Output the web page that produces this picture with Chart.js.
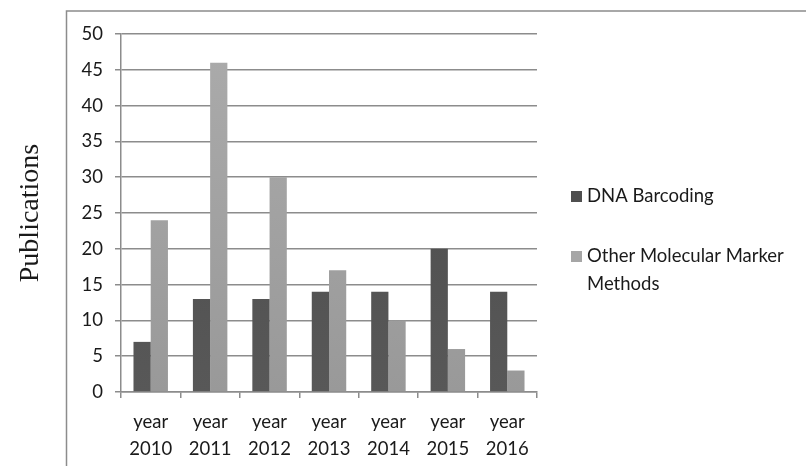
<!DOCTYPE html>
<html>
<head>
<meta charset="utf-8">
<script src="https://cdn.jsdelivr.net/npm/chart.js@4/dist/chart.umd.min.js"></script>
<style>
  html, body { margin: 0; padding: 0; background: #fff; }
  #wrap { width: 806px; height: 466px; position: relative; }
</style>
</head>
<body>
<div id="wrap"><canvas id="c" width="806" height="466"></canvas></div>
<script>
const categories = [["year", "2010"], ["year", "2011"], ["year", "2012"], ["year", "2013"], ["year", "2014"], ["year", "2015"], ["year", "2016"]];
const seriesNames = ["DNA Barcoding", "Other Molecular Marker Methods"];
const dnaBarcoding = [7, 13, 13, 14, 14, 20, 14];
const otherMarkers = [24, 46, 30, 17, 10, 6, 3];
const yTicks = [0, 5, 10, 15, 20, 25, 30, 35, 40, 45, 50];

const labelFont = "Lato, 'Open Sans', sans-serif";
const labelSize = 18.5;

function barGradient(top, bottom) {
  return function (context) {
    const area = context.chart.chartArea;
    if (!area) return top;
    const g = context.chart.ctx.createLinearGradient(0, area.top, 0, area.bottom);
    g.addColorStop(0, top);
    g.addColorStop(1, bottom);
    return g;
  };
}

// Outer frame lines and the side legend
const framePlugin = {
  id: 'frame',
  beforeDraw(chart) {
    const ctx = chart.ctx;
    ctx.save();
    ctx.strokeStyle = '#8c8c8c';
    ctx.lineWidth = 1.5;
    ctx.beginPath();
    ctx.moveTo(66.5, 466);
    ctx.lineTo(66.5, 11);
    ctx.lineTo(806, 11);
    ctx.stroke();
    ctx.restore();
  },
  afterDraw(chart) {
    const ctx = chart.ctx;
    ctx.save();
    ctx.font = labelSize + "px " + labelFont;
    ctx.textBaseline = 'middle';
    const items = [
      { color: '#4f4f4f', lines: [chart.data.datasets[0].label], y: 196 },
      { color: '#a6a6a6', lines: ["Other Molecular Marker", "Methods"], y: 256 }
    ];
    items.forEach(it => {
      ctx.fillStyle = it.color;
      ctx.fillRect(571, it.y - 5, 11, 11);
      ctx.fillStyle = '#1a1a1a';
      it.lines.forEach((t, i) => ctx.fillText(t, 587, it.y + i * 28));
    });
    ctx.restore();
  }
};

new Chart(document.getElementById('c'), {
  type: 'bar',
  data: {
    labels: categories,
    datasets: [
      {
        label: seriesNames[0],
        data: dnaBarcoding,
        backgroundColor: barGradient('#4a4a4a', '#585858'),
        barPercentage: 1.0,
        categoryPercentage: 0.58
      },
      {
        label: seriesNames[1],
        data: otherMarkers,
        backgroundColor: barGradient('#ababab', '#999999'),
        barPercentage: 1.0,
        categoryPercentage: 0.58
      }
    ]
  },
  options: {
    responsive: false,
    animation: false,
    devicePixelRatio: 1,
    layout: { padding: { left: 14, right: 269, top: 34, bottom: 0 } },
    plugins: {
      legend: { display: false },
      tooltip: { enabled: false }
    },
    scales: {
      x: {
        grid: { drawOnChartArea: false, tickLength: 6, color: '#8c8c8c', lineWidth: 1.5 },
        border: { color: '#8c8c8c', width: 1.5 },
        ticks: { color: '#1a1a1a', font: { family: labelFont, size: labelSize, lineHeight: 1.45 }, padding: 11, maxRotation: 0, autoSkip: false },
        afterFit(scale) { scale.height = 74; }
      },
      y: {
        min: 0,
        max: 50,
        afterBuildTicks(scale) { scale.ticks = yTicks.map(v => ({ value: v })); },
        grid: { color: '#8c8c8c', lineWidth: 1.5, tickLength: 6 },
        border: { color: '#8c8c8c', width: 1.5 },
        ticks: { color: '#1a1a1a', font: { family: labelFont, size: labelSize }, padding: 12 },
        title: {
          display: true,
          text: 'Publications',
          color: '#1a1a1a',
          font: { family: "'Liberation Serif', 'Times New Roman', serif", size: 28 },
          padding: { top: 0, bottom: 0 }
        },
        afterFit(scale) { scale.width = 107; }
      }
    }
  },
  plugins: [framePlugin]
});
</script>
</body>
</html>
